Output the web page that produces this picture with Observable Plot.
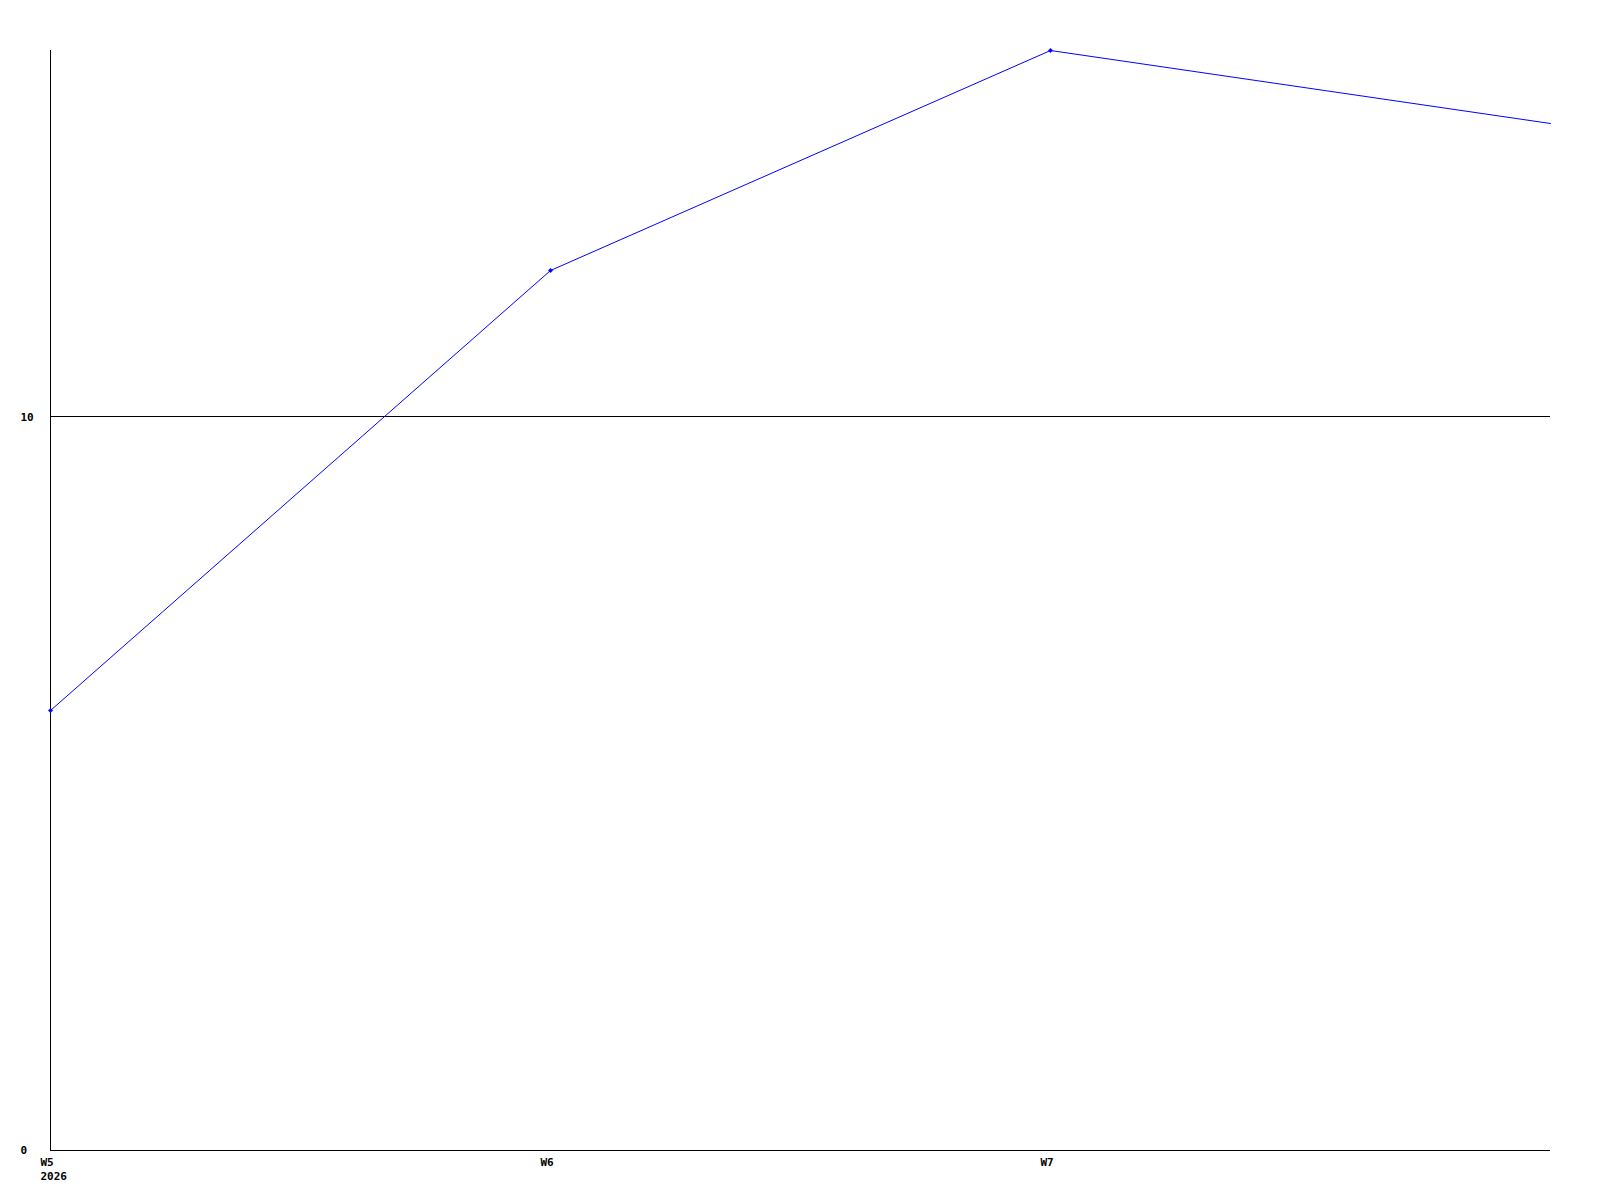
<!DOCTYPE html>
<html>
<head>
<meta charset="utf-8">
<script src="https://cdn.jsdelivr.net/npm/d3@7"></script>
<script src="https://cdn.jsdelivr.net/npm/@observablehq/plot@0.6"></script>
<style>
  html, body { margin: 0; padding: 0; background: #fff; }
</style>
</head>
<body>
<div id="chart"></div>
<script>
const weeks = ["W5", "W6", "W7", "W8"];
const values = [6, 12, 15, 14];
const xTickLabels = ["W5", "W6", "W7"];
const yearLabel = "2026";
const yTicks = [0, 10];
const gridValues = [10];

const data = weeks.map((w, i) => ({week: w, value: values[i]}));
const markerData = data.slice(0, 3);

const chart = Plot.plot({
  width: 1600,
  height: 1200,
  marginLeft: 50,
  marginRight: 50,
  marginTop: 50,
  marginBottom: 50,
  style: {fontFamily: "'DejaVu Sans Mono', monospace", fontSize: "11px", fontWeight: "bold", background: "#fff", color: "#000"},
  x: {type: "point", domain: weeks, padding: 0},
  y: {domain: [0, 15], round: true},
  marks: [
    Plot.ruleY(gridValues, {stroke: "#000", strokeWidth: 1, dy: -1}),
    Plot.ruleX([weeks[0]], {stroke: "#000", strokeWidth: 1}),
    Plot.ruleY([0], {stroke: "#000", strokeWidth: 1}),
    Plot.axisY({ticks: yTicks, tickSize: 0, tickPadding: 30, textAnchor: "start", label: null, fontWeight: "bold"}),
    Plot.axisX({ticks: xTickLabels, tickSize: 0, tickPadding: 5, label: null, textAnchor: "start", dx: -10, lineHeight: 1.3,
      tickFormat: (d) => d === weeks[0] ? d + "\n" + yearLabel : d}),
    Plot.line(data, {x: "week", y: "value", stroke: "#0000ff", strokeWidth: 1}),
    Plot.dot(markerData, {x: "week", y: "value", r: 2, fill: "#0000ff", symbol: "diamond2", stroke: "#0000ff", strokeWidth: 0.5})
  ]
});
document.getElementById("chart").appendChild(chart);
</script>
</body>
</html>
